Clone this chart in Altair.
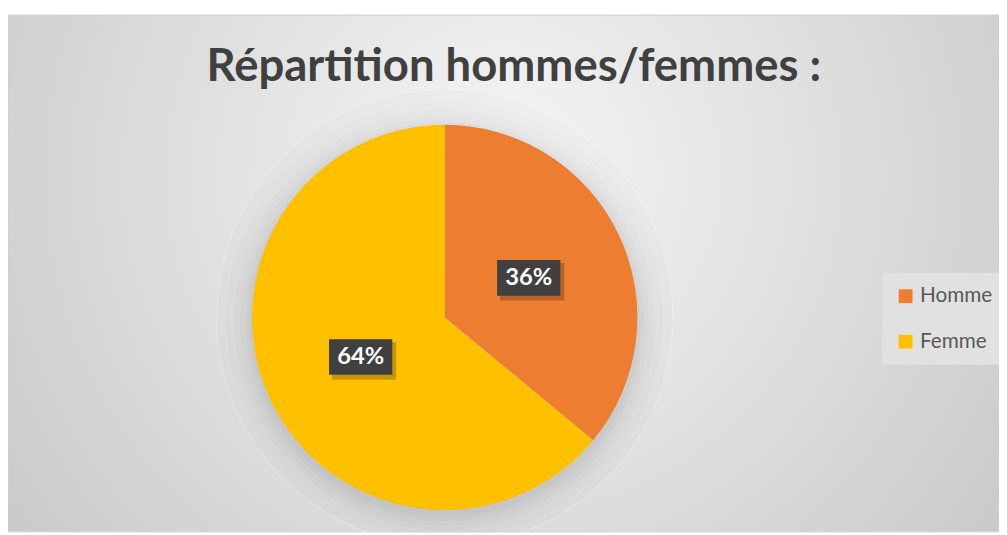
import altair as alt
import pandas as pd

genres = ["Homme", "Femme"]
valeurs = [36, 64]
couleurs = ["#ED7D31", "#FFC000"]
titre = "Répartition hommes/femmes :"

W, H = 1003, 527
CX, CY, R = 442, 310, 195

df = pd.DataFrame({"genre": genres, "valeur": valeurs, "ordre": list(range(len(genres)))})
cercle = pd.DataFrame({"v": [1]})

bg = alt.Chart(pd.DataFrame({"a": [0]})).mark_rect(
    fill={"gradient": "radial", "x1": 0.5, "y1": 0.4, "r1": 0, "x2": 0.5, "y2": 0.4, "r2": 0.75,
          "stops": [{"offset": 0, "color": "#f6f6f6"}, {"offset": 1, "color": "#c0c0c0"}]},
    stroke="#cfcfcf", strokeWidth=1,
).encode(x=alt.value(0), x2=alt.value(W), y=alt.value(4), y2=alt.value(H))

def halo(r, op, dy=0):
    return alt.Chart(cercle).mark_arc(radius=r, color="#000000", opacity=op).encode(
        theta=alt.Theta("v:Q", scale=alt.Scale(domain=[0, 1])),
        x=alt.value(CX), y=alt.value(CY + dy))

ring = alt.Chart(cercle).mark_arc(radius=R + 36, fill="transparent", stroke="#ffffff",
                                  strokeWidth=1, opacity=0.3).encode(
    theta=alt.Theta("v:Q", scale=alt.Scale(domain=[0, 1])), x=alt.value(CX), y=alt.value(CY))

halos = alt.layer(
    halo(R + 36, 0.012), halo(R + 26, 0.012, 2), halo(R + 18, 0.014, 3), halo(R + 12, 0.016, 4),
    halo(R + 7, 0.02, 4), halo(R + 3, 0.025, 4), ring)

base = alt.Chart(df)

pie = base.mark_arc(radius=R).encode(
    theta=alt.Theta("valeur:Q", stack=True),
    color=alt.Color("genre:N", sort=genres,
                    scale=alt.Scale(domain=genres, range=couleurs),
                    legend=alt.Legend(title=None, orient="none", legendX=885, legendY=265,
                                      fillColor="#e1e1e1", padding=13, symbolType="square",
                                      symbolSize=196, symbolStrokeWidth=0, labelFontSize=21,
                                      labelColor="#595959", labelFont="Lato", rowPadding=24,
                                      symbolOffset=0, labelOffset=4, labelLimit=200)),
    order=alt.Order("ordre:Q"),
    x=alt.value(CX), y=alt.value(CY),
)

lab = base.transform_joinaggregate(total="sum(valeur)").transform_window(
    cum="sum(valeur)", sort=[alt.SortField("ordre")]
).transform_calculate(
    px=f"{CX} + 94*sin((datum.cum - datum.valeur/2)/datum.total*2*PI)",
    py=f"{CY} - 94*cos((datum.cum - datum.valeur/2)/datum.total*2*PI)",
    txt="datum.valeur + '%'",
).transform_calculate(
    bx1="datum.px - 32", bx2="datum.px + 32", by1="datum.py - 18", by2="datum.py + 18",
    sx1="datum.px - 29", sx2="datum.px + 36", sy1="datum.py - 15", sy2="datum.py + 23",
)

box_shadow = lab.mark_rect(color="#000000", opacity=0.22).encode(
    x=alt.X("sx1:Q", scale=None), x2="sx2:Q",
    y=alt.Y("sy1:Q", scale=None), y2="sy2:Q",
)
box = lab.mark_rect(color="#404040").encode(
    x=alt.X("bx1:Q", scale=None), x2="bx2:Q",
    y=alt.Y("by1:Q", scale=None), y2="by2:Q",
)
txt = lab.mark_text(color="#ffffff", font="Lato", fontWeight="bold", fontSize=24,
                    align="center", baseline="middle").encode(
    x=alt.X("px:Q", scale=None), y=alt.Y("py:Q", scale=None), text="txt:N",
)

title = alt.Chart(pd.DataFrame({"t": [titre]})).mark_text(
    font="Lato", fontWeight="bold", fontSize=46, color="#404040", align="center", baseline="middle"
).encode(x=alt.value(512), y=alt.value(57), text="t:N")

chart = alt.layer(
    bg, halos, pie, box_shadow, box, txt, title
).resolve_scale(theta="independent").properties(
    width=W, height=H, autosize=alt.AutoSizeParams(type="none"), padding=0
).configure_view(stroke=None)

chart.save("out.html", embed_options={"renderer": "svg", "actions": False})
